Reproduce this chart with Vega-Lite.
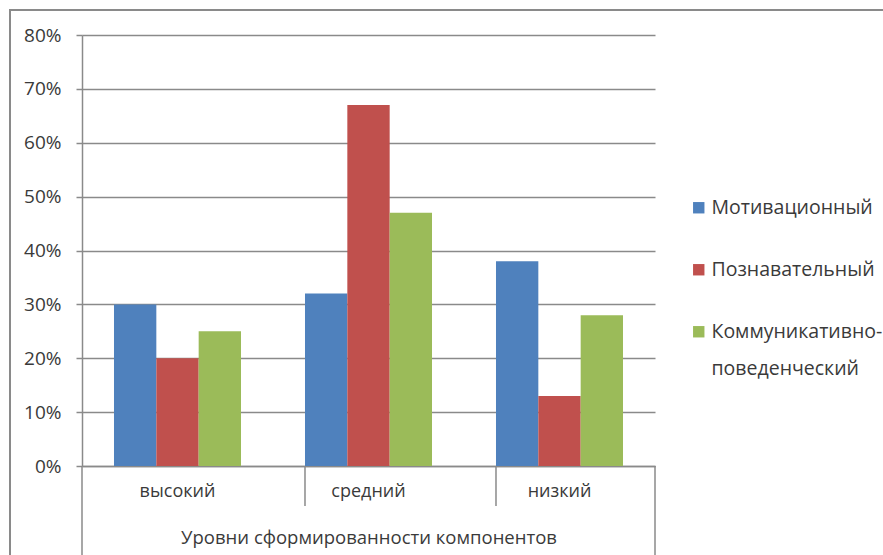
{
  "$schema": "https://vega.github.io/schema/vega-lite/v6.json",
  "width": 573,
  "height": 431,
  "autosize": {"type": "none"},
  "padding": {"left": 82, "top": 35, "right": 228, "bottom": 89},
  "background": "white",
  "config": {
    "view": {"stroke": null},
    "font": "Open Sans",
    "axis": {"labelFont": "Open Sans", "titleFont": "Open Sans", "labelColor": "#3a3a3a", "titleColor": "#3a3a3a"},
    "legend": {"labelFont": "Open Sans"}
  },
  "layer": [
    {
      "data": {"values": [{}]},
      "mark": {"type": "rect", "fill": null, "stroke": "#8a8a8a", "strokeWidth": 2},
      "encoding": {
        "x": {"value": -72},
        "x2": {"value": 805},
        "y": {"value": -25},
        "y2": {"value": 530}
      }
    },
    {
      "data": {
        "values": [
          {"level": "высокий", "series": "Мотивационный", "value": 30},
          {"level": "высокий", "series": "Познавательный", "value": 20},
          {"level": "высокий", "series": "Коммуникативно-поведенческий", "value": 25},
          {"level": "средний", "series": "Мотивационный", "value": 32},
          {"level": "средний", "series": "Познавательный", "value": 67},
          {"level": "средний", "series": "Коммуникативно-поведенческий", "value": 47},
          {"level": "низкий", "series": "Мотивационный", "value": 38},
          {"level": "низкий", "series": "Познавательный", "value": 13},
          {"level": "низкий", "series": "Коммуникативно-поведенческий", "value": 28}
        ]
      },
      "mark": {"type": "bar"},
      "encoding": {
        "x": {
          "field": "level",
          "type": "nominal",
          "sort": ["высокий", "средний", "низкий"],
          "scale": {"domain": ["высокий", "средний", "низкий"], "paddingInner": 0.335, "paddingOuter": 0.1675},
          "axis": {
            "title": "Уровни сформированности компонентов",
            "titleFontSize": 18.5,
            "titleFontWeight": "normal",
            "titlePadding": 28,
            "labelFontSize": 18,
            "labelAngle": 0,
            "labelPadding": 16,
            "ticks": false,
            "domainColor": "#8a8a8a",
            "domainWidth": 1.5
          }
        },
        "xOffset": {
          "field": "series",
          "type": "nominal",
          "sort": ["Мотивационный", "Познавательный", "Коммуникативно-поведенческий"],
          "scale": {"paddingInner": 0, "paddingOuter": 0}
        },
        "y": {
          "field": "value",
          "type": "quantitative",
          "scale": {"domain": [0, 80], "nice": false},
          "axis": {
            "title": null,
            "values": [0, 10, 20, 30, 40, 50, 60, 70, 80],
            "labelExpr": "datum.value + '%'",
            "labelFontSize": 19,
            "labelPadding": 15,
            "tickSize": 6,
            "tickColor": "#8a8a8a",
            "tickWidth": 1.5,
            "domainColor": "#8a8a8a",
            "domainWidth": 1.5,
            "gridColor": "#8a8a8a",
            "gridWidth": 1.5
          }
        },
        "color": {
          "field": "series",
          "type": "nominal",
          "sort": ["Мотивационный", "Познавательный", "Коммуникативно-поведенческий"],
          "scale": {
            "domain": ["Мотивационный", "Познавательный", "Коммуникативно-поведенческий"],
            "range": ["#4F81BD", "#C0504D", "#9BBB59"]
          },
          "legend": {
            "title": null,
            "orient": "none",
            "legendX": 607,
            "legendY": 163,
            "symbolType": "square",
            "symbolSize": 130,
            "symbolStrokeWidth": 0,
            "labelFontSize": 19.5,
            "labelColor": "#3a3a3a",
            "labelOffset": 3,
            "labelLimit": 300,
            "rowPadding": 41,
            "labelExpr": "datum.label == 'Коммуникативно-поведенческий' ? ['Коммуникативно-', 'поведенческий'] : datum.label",
            "encode": {"labels": {"update": {"lineHeight": {"value": 37}}}}
          }
        }
      }
    },
    {
      "data": {"values": [{"level": "средний"}, {"level": "низкий"}]},
      "mark": {"type": "rule", "color": "#8a8a8a", "strokeWidth": 1.5},
      "encoding": {
        "x": {"field": "level", "type": "nominal", "bandPosition": 0, "sort": ["высокий", "средний", "низкий"]},
        "y": {"value": 431},
        "y2": {"value": 471}
      }
    },
    {
      "data": {"values": [{"edge": 0}, {"edge": 573}]},
      "mark": {"type": "rule", "color": "#8a8a8a", "strokeWidth": 1.5},
      "encoding": {
        "x": {"field": "edge", "type": "quantitative", "scale": null},
        "y": {"value": 431},
        "y2": {"value": 520}
      }
    }
  ],
  "resolve": {"scale": {"x": "shared"}}
}
